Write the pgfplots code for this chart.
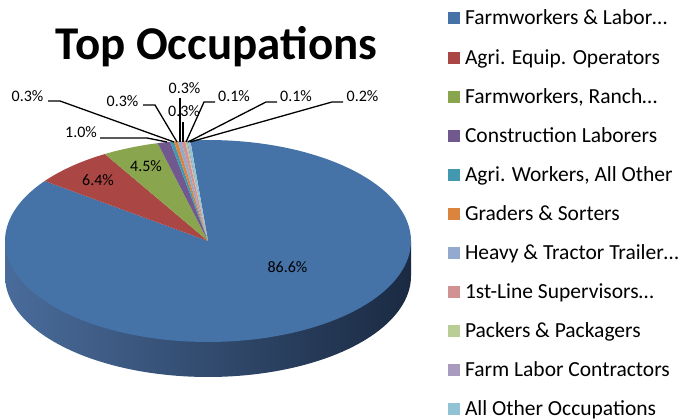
\documentclass[border=0pt]{standalone}
\usepackage{fontspec}
\setmainfont{Carlito}
\usepackage{pgfplots}
\pgfplotsset{compat=1.18}
\definecolor{c1}{HTML}{4572A7}
\definecolor{c2}{HTML}{AA4643}
\definecolor{c3}{HTML}{89A54E}
\definecolor{c4}{HTML}{71588F}
\definecolor{c5}{HTML}{4198AF}
\definecolor{c6}{HTML}{DB843D}
\definecolor{c7}{HTML}{93A9CF}
\definecolor{c8}{HTML}{D19392}
\definecolor{c9}{HTML}{B9CD96}
\definecolor{c10}{HTML}{A99BBD}
\definecolor{c11}{HTML}{92C3D5}
\definecolor{sideL}{HTML}{4A6C9B}
\definecolor{sideM}{HTML}{2A4266}
\definecolor{sideR}{HTML}{1A2A42}
\begin{document}
\begin{tikzpicture}
\useasboundingbox (0,0) rectangle (679bp,419bp);
\begin{axis}[
  width=679bp, height=419bp, scale only axis,
  xmin=0, xmax=679, ymin=0, ymax=419,
  hide axis, clip=false,
  legend style={at={(axis cs:448,410)}, anchor=north west, draw=none, fill=none,
    inner sep=0pt, outer sep=0pt, font=\fontsize{21.5bp}{21.5bp}\selectfont,
    row sep=20.1bp, column sep=5bp,
    nodes={inner sep=0pt, text height=16bp, text depth=3bp}},
  legend cell align=left,
  legend image code/.code={\fill[#1] (0bp,-6bp) rectangle (12bp,6bp);},
  legend entries={{Farmworkers \& Labor…},{Agri. Equip. Operators},{Farmworkers, Ranch…},{Construction Laborers},{Agri. Workers, All Other},{Graders \& Sorters},{Heavy \& Tractor Trailer…},{1st-Line Supervisors…},{Packers \& Packagers},{Farm Labor Contractors},{All Other Occupations}},
]
% side wall
\addplot[forget plot, draw=none, left color=sideL, middle color=sideM, right color=sideR, domain=180:360, samples=90]
  ({208+203*cos(x)},{143+101*sin(x)}) -- (axis cs:411,178) -- (axis cs:5,178) -- cycle;
% top face slices
\xdef\cum{95}
\foreach \v/\c in {86.6/c1,6.4/c2,4.5/c3,1.0/c4,0.3/c5,0.3/c6,0.3/c7,0.3/c8,0.1/c9,0.1/c10,0.2/c11} {
  \pgfmathsetmacro\a{\cum}
  \pgfmathsetmacro\b{\cum-\v/100.1*360}
  \pgfmathtruncatemacro\n{max(4,\v*1.5)}
  \edef\doplot{\noexpand\addplot[fill=\c, draw=none, domain=\b:\a, samples=\n]
    ({208+203*cos(x)},{178+101*sin(x)}) -- (axis cs:208,178) -- cycle;}
  \doplot
  \xdef\cum{\b}
}
% leader lines
\addplot[forget plot, black, line width=1.3bp] coordinates {(48,318) (60,318) (174,277)};
\addplot[forget plot, black, line width=1.3bp] coordinates {(143,314) (155,314) (177,277)};
\addplot[forget plot, black, line width=1.3bp] coordinates {(100,281) (147,281) (167,277)};
\addplot[forget plot, black, line width=1.3bp] coordinates {(180,321) (180,277)};
\addplot[forget plot, black, line width=1.3bp] coordinates {(183,297) (183,277)};
\addplot[forget plot, black, line width=1.3bp] coordinates {(215,317) (204,317) (186,277)};
\addplot[forget plot, black, line width=1.3bp] coordinates {(277,317) (266,317) (188,277)};
\addplot[forget plot, black, line width=1.3bp] coordinates {(343,317) (332,317) (190,277)};
% labels
\begin{scope}[every node/.style={font=\fontsize{16bp}{16bp}\selectfont, anchor=base, inner sep=0pt}]
\node at (axis cs:287.5,146) {86.6\%};
\node at (axis cs:98,233) {6.4\%};
\node at (axis cs:146,247) {4.5\%};
\node at (axis cs:81,281) {1.0\%};
\node at (axis cs:27.5,317) {0.3\%};
\node at (axis cs:122.5,312.5) {0.3\%};
\node at (axis cs:184.5,325) {0.3\%};
\node at (axis cs:184,302) {0.3\%};
\node at (axis cs:234,317) {0.1\%};
\node at (axis cs:296,317) {0.1\%};
\node at (axis cs:362.5,317) {0.2\%};
\end{scope}
\node[font=\bfseries\fontsize{47bp}{47bp}\selectfont, anchor=base, inner sep=0pt] at (axis cs:216.5,359) {Top Occupations};
\end{axis}
\end{tikzpicture}
\end{document}
